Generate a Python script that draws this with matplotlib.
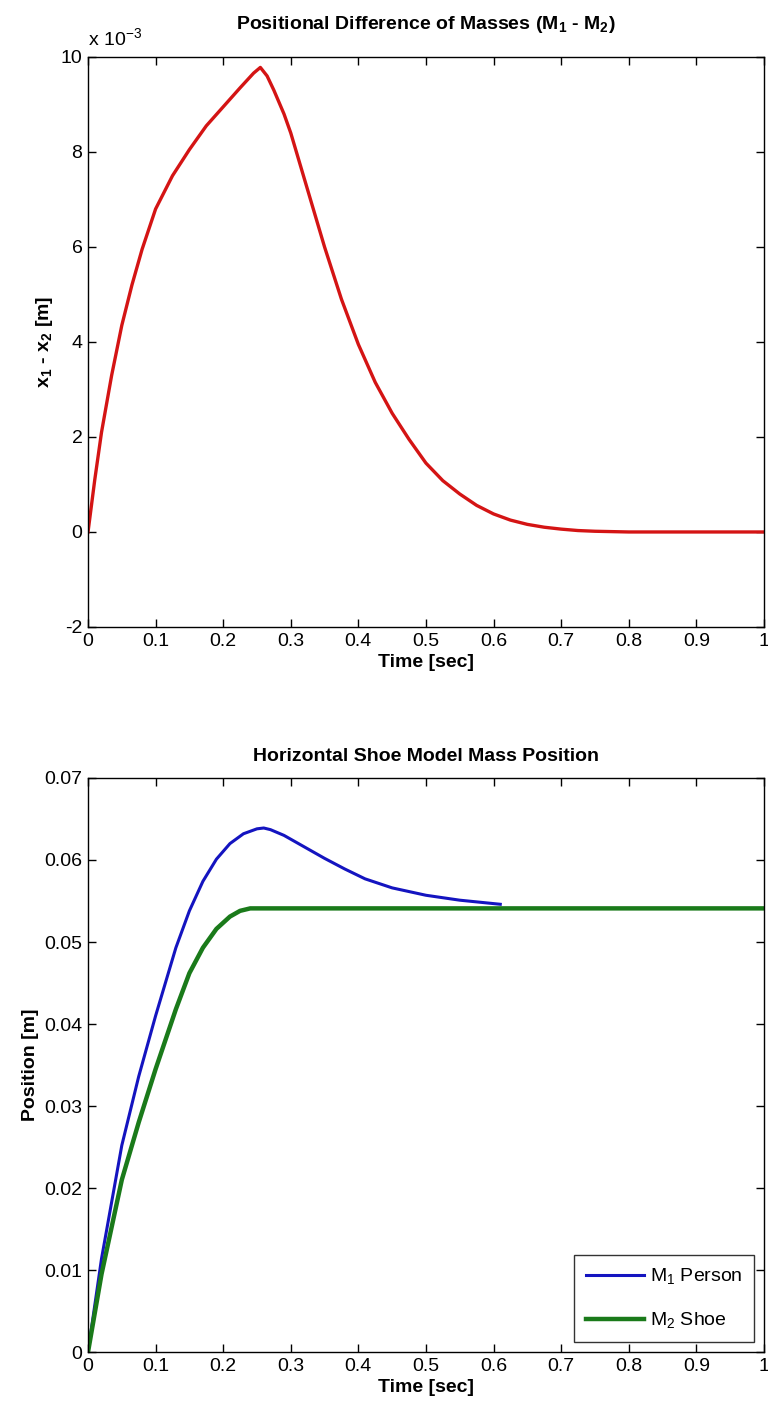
import numpy as np
import matplotlib
matplotlib.use('Agg')
import matplotlib.pyplot as plt

plt.rcParams['font.family'] = ['Liberation Sans', 'DejaVu Sans']
plt.rcParams['mathtext.fontset'] = 'custom'
plt.rcParams['mathtext.rm'] = 'Liberation Sans'
plt.rcParams['mathtext.bf'] = 'Liberation Sans:bold'

# x1 - x2 (units of 1e-3 m)
t_diff = [0, 0.01, 0.02, 0.035, 0.05, 0.065, 0.08, 0.1, 0.125, 0.15, 0.175, 0.2,
          0.225, 0.245, 0.255, 0.265, 0.275, 0.29, 0.3, 0.325, 0.35, 0.375, 0.4,
          0.425, 0.45, 0.475, 0.5, 0.525, 0.55, 0.575, 0.6, 0.625, 0.65, 0.675,
          0.7, 0.725, 0.75, 0.8, 0.9, 1.0]
diff_e3 = [0, 1.1, 2.1, 3.3, 4.35, 5.2, 5.95, 6.8, 7.5, 8.05, 8.55, 8.95,
           9.35, 9.66, 9.78, 9.6, 9.3, 8.8, 8.4, 7.2, 6.0, 4.9, 3.95,
           3.15, 2.5, 1.95, 1.45, 1.08, 0.8, 0.56, 0.38, 0.25, 0.16, 0.1,
           0.06, 0.03, 0.015, 0.0, 0.0, 0.0]

# M1 person
t_m1 = [0, 0.02, 0.05, 0.075, 0.1, 0.13, 0.15, 0.17, 0.19, 0.21, 0.23, 0.25, 0.26,
        0.27, 0.29, 0.32, 0.35, 0.38, 0.41, 0.45, 0.5, 0.55, 0.61]
pos_m1 = [0, 0.0114, 0.0252, 0.0336, 0.0410, 0.0493, 0.0538, 0.0574, 0.0601, 0.0620,
          0.0632, 0.0638, 0.0639, 0.0637, 0.0630, 0.0616, 0.0602, 0.0589, 0.0577,
          0.0566, 0.0557, 0.0551, 0.0546]

# M2 shoe
t_m2 = [0, 0.02, 0.05, 0.075, 0.1, 0.13, 0.15, 0.17, 0.19, 0.21, 0.225, 0.24, 0.5, 1.0]
pos_m2 = [0, 0.0095, 0.021, 0.028, 0.0345, 0.0418, 0.0462, 0.0493, 0.0516, 0.0531,
          0.0538, 0.0541, 0.0541, 0.0541]

xtick_labels = ['0', '0.1', '0.2', '0.3', '0.4', '0.5', '0.6', '0.7', '0.8', '0.9', '1']

fig = plt.figure(figsize=(7.68, 14.14), dpi=100)
ax1 = fig.add_axes([0.1146, 0.5566, 0.880, 0.4031])
ax2 = fig.add_axes([0.1146, 0.0438, 0.880, 0.406])

tick_fs = 14
lab_fs = 14

ax1.plot(t_diff, diff_e3, color='#d41414', lw=2.4)
ax1.set_xlim(0, 1)
ax1.set_ylim(-2, 10)
ax1.set_xticks(np.arange(0, 1.01, 0.1))
ax1.set_xticklabels(xtick_labels)
ax1.set_yticks([-2, 0, 2, 4, 6, 8, 10])
ax1.set_yticklabels(['-2', '0', '2', '4', '6', '8', '10'])
ax1.set_title(r'Positional Difference of Masses (M$_\mathbf{1}$ - M$_\mathbf{2}$)',
              fontweight='bold', fontsize=lab_fs, pad=20)
ax1.set_xlabel('Time [sec]', fontweight='bold', fontsize=lab_fs, labelpad=3)
ax1.set_ylabel(r'x$_\mathbf{1}$ - x$_\mathbf{2}$ [m]', fontweight='bold', fontsize=lab_fs)
ax1.text(0, 1.012, r'x 10$^{-3}$', transform=ax1.transAxes, fontsize=tick_fs,
         ha='left', va='bottom')

ax2.plot(t_m1, pos_m1, color='#1414c0', lw=2.2, label=r'M$_1$ Person')
ax2.plot(t_m2, pos_m2, color='#1a7a1a', lw=3.2, label=r'M$_2$ Shoe')
ax2.set_xlim(0, 1)
ax2.set_ylim(0, 0.07)
ax2.set_xticks(np.arange(0, 1.01, 0.1))
ax2.set_xticklabels(xtick_labels)
ax2.set_yticks(np.arange(0, 0.071, 0.01))
ax2.set_yticklabels(['0', '0.01', '0.02', '0.03', '0.04', '0.05', '0.06', '0.07'])
ax2.set_title('Horizontal Shoe Model Mass Position', fontweight='bold', fontsize=lab_fs, pad=12)
ax2.set_xlabel('Time [sec]', fontweight='bold', fontsize=lab_fs, labelpad=3)
ax2.set_ylabel('Position [m]', fontweight='bold', fontsize=lab_fs)
leg = ax2.legend(loc='lower right', fontsize=tick_fs, frameon=True, fancybox=False,
                 edgecolor='black', handlelength=3.0, handletextpad=0.3,
                 borderaxespad=0.5, labelspacing=1.2, borderpad=0.6)
leg.get_frame().set_linewidth(1.0)

for ax in (ax1, ax2):
    ax.tick_params(direction='in', top=True, right=True, length=6, width=1,
                   labelsize=tick_fs, pad=4)
    for s in ax.spines.values():
        s.set_linewidth(1.0)

fig.savefig('out.png', dpi=100, facecolor='white')
